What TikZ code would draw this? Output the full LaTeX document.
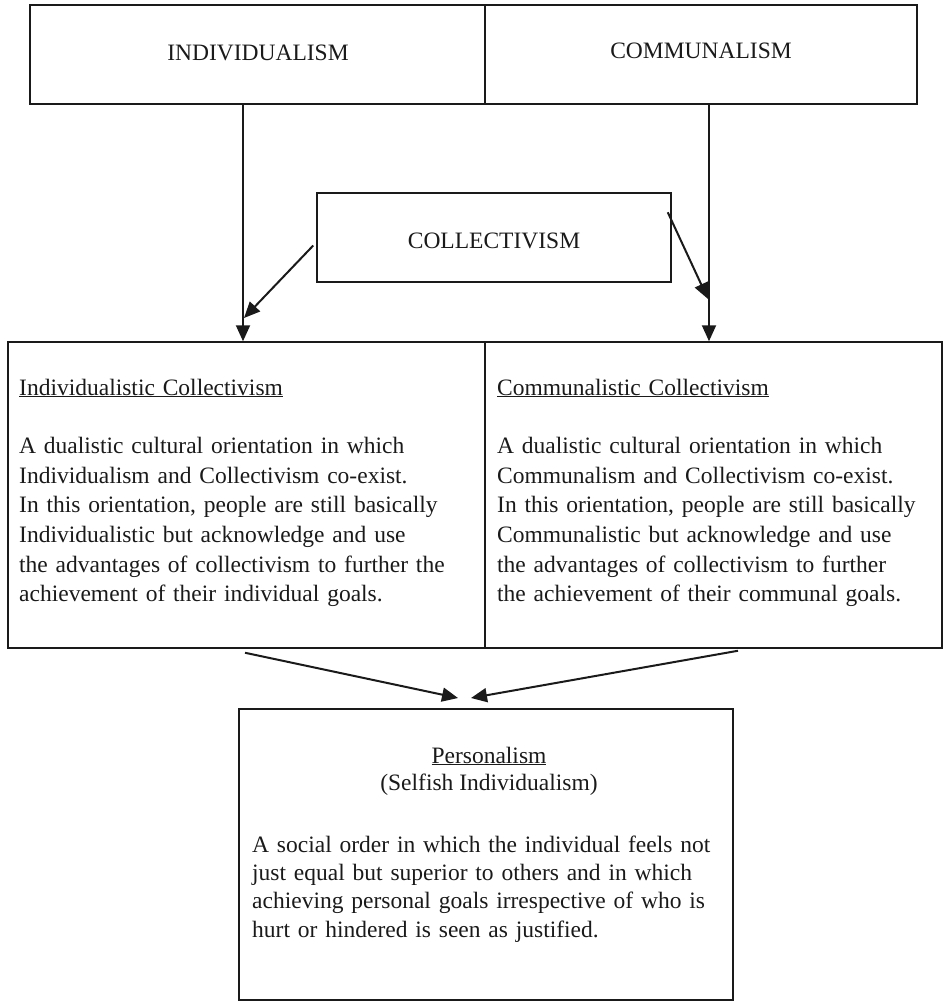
\documentclass[tikz,border=0pt]{standalone}
\usepackage{fontspec}
\setmainfont{Liberation Serif}
\usetikzlibrary{arrows.meta,calc}
\definecolor{ink}{HTML}{1A1A1A}
\begin{document}
\begin{tikzpicture}[x=1pt,y=-1pt,
  box/.style={draw=ink, line width=1.5pt, rectangle, inner sep=0pt},
  arr/.style={draw=ink, line width=2pt, -{Triangle[length=16pt,width=14pt]}},
  txt/.style={inner sep=0pt, text=ink, font=\fontsize{23.5}{29.6}\selectfont},
]
\useasboundingbox (0,0) rectangle (943,1002);
% boxes
\node[box, minimum width=455pt, minimum height=99pt] (indiv) at (257.5,54.5) {};
\node[box, minimum width=432pt, minimum height=99pt] (commun) at (701,54.5) {};
\node[box, minimum width=354pt, minimum height=89pt] (coll) at (494,237.5) {};
\node[box, minimum width=477pt, minimum height=306pt] (ic) at (246.5,495) {};
\node[box, minimum width=457pt, minimum height=306pt] (cc) at (713.5,495) {};
\node[box, minimum width=494pt, minimum height=291pt] (pers) at (486,854.5) {};
% titles
\node[txt, anchor=base] (tindiv) at (258,60) {INDIVIDUALISM};
\node[txt, anchor=base] (tcommun) at (701,58.5) {COMMUNALISM};
\node[txt, anchor=base] (tcoll) at (494,248) {COLLECTIVISM};
% middle texts
\node[txt, anchor=base west, text width=460pt, align=left] (tic) at (19,395)
  {\underline{Individualistic Collectivism}\\[29pt]
   A dualistic cultural orientation in which\\
   Individualism and Collectivism co-exist.\\
   In this orientation, people are still basically\\
   Individualistic but acknowledge and use\\
   the advantages of collectivism to further the\\
   achievement of their individual goals.};
\node[txt, anchor=base west, text width=440pt, align=left] (tcc) at (497,395)
  {\underline{Communalistic Collectivism}\\[29pt]
   A dualistic cultural orientation in which\\
   Communalism and Collectivism co-exist.\\
   In this orientation, people are still basically\\
   Communalistic but acknowledge and use\\
   the advantages of collectivism to further\\
   the achievement of their communal goals.};
% bottom texts
\node[txt, anchor=base, align=center, font=\fontsize{23.5}{27}\selectfont] (tpers) at (489,790)
  {\underline{Personalism}\\(Selfish Individualism)};
\node[txt, anchor=base west, text width=470pt, align=left, font=\fontsize{23.5}{28.4}\selectfont] (tpbody) at (252,852)
  {A social order in which the individual feels not\\
   just equal but superior to others and in which\\
   achieving personal goals irrespective of who is\\
   hurt or hindered is seen as justified.};
% connector helpers
\coordinate (xl) at (243,0);
\coordinate (xr) at (709,0);
\coordinate (cl) at (244,318);
\coordinate (cr) at (708,299);
\coordinate (pl) at (458,698);
\coordinate (pr) at (471,698);
% connectors
\draw[arr] (indiv.south -| xl) -- (ic.north -| xl);
\draw[arr] (commun.south -| xr) -- (cc.north -| xr);
\draw[arr] ($(coll.west)+(-3,8)$) -- (cl);
\draw[arr] ($(coll.north east)+(-4,20)$) -- (cr);
\draw[arr] ($(ic.south)+(-1.5,4)$) -- (pl);
\draw[arr] ($(cc.south)+(24.5,2)$) -- (pr);
\end{tikzpicture}
\end{document}
